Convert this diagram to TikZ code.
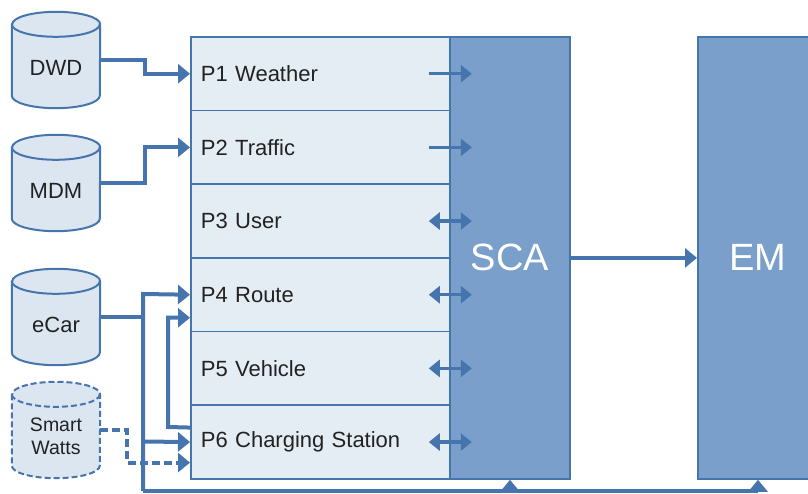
\documentclass[tikz,border=0pt]{standalone}
\usepackage{fontspec}
\setmainfont{Liberation Sans}
\usetikzlibrary{arrows.meta}

\definecolor{edge}{HTML}{4674AC}
\definecolor{rowfill}{HTML}{E4ECF4}
\definecolor{dbfill}{HTML}{DCE6F1}
\definecolor{blockfill}{HTML}{7A9FCA}
\definecolor{ink}{HTML}{222222}

% database drum drawn around an (invisible) named box
\newcommand\drum[2][]{%
  \path[#1] ([yshift=-12.5pt]#2.north west)
    -- ([yshift=12.5pt]#2.south west)
    arc[start angle=180,end angle=360,x radius=44pt,y radius=12.5pt]
    -- ([yshift=-12.5pt]#2.north east)
    arc[start angle=0,end angle=180,x radius=44pt,y radius=12.5pt]
    -- cycle;
  \path[#1,fill=none] ([yshift=-12.5pt]#2.north west)
    arc[start angle=180,end angle=360,x radius=44pt,y radius=12.5pt];
}

\begin{document}
\begin{tikzpicture}[x=1pt,y=-1pt,
  dbbox/.style={minimum width=88pt,minimum height=96pt,inner sep=0pt},
  dblabel/.style={text=ink,font=\fontsize{22}{26}\selectfont,inner sep=0pt,align=center},
  drumline/.style={draw=edge,line width=2pt,fill=dbfill},
  row/.style={draw=edge,line width=1.8pt,fill=rowfill,anchor=north west,
    minimum height=73.67pt,text width=239pt,inner xsep=10pt,align=left,
    text=ink,font=\fontsize{22}{26}\selectfont},
  block/.style={draw=edge,line width=1.8pt,fill=blockfill,anchor=north west,
    minimum width=120pt,minimum height=442pt,text=white,
    font=\fontsize{38}{42}\selectfont},
  conn/.style={draw=edge,line width=4pt,-{Triangle[length=12pt,width=19pt]}},
  dconn/.style={conn,dash pattern=on 8pt off 4pt},
  one/.style={draw=edge,line width=3.2pt,-{Triangle[length=11pt,width=17pt]}},
  both/.style={draw=edge,line width=3.2pt,{Triangle[length=11pt,width=17pt]}-{Triangle[length=11pt,width=17pt]}}
]
\useasboundingbox (0,0) rectangle (808,494);

% data sources
\node[dbbox] (dwd)  at (56,60)  {};
\node[dbbox] (mdm)  at (56,183) {};
\node[dbbox] (ecar) at (56,317) {};
\node[dbbox] (sw)   at (56,430) {};
\drum[drumline]{dwd}
\drum[drumline]{mdm}
\drum[drumline]{ecar}
\drum[drumline,dash pattern=on 6pt off 3pt]{sw}
\node[dblabel] (dwdl)  at ([yshift=-8pt]dwd.center)  {DWD};
\node[dblabel] (mdml)  at ([yshift=-8pt]mdm.center)  {MDM};
\node[dblabel] (ecarl) at ([yshift=-8pt]ecar.center) {eCar};
\node[dblabel,font=\fontsize{19.5}{23}\selectfont] (swl) at ([yshift=-6pt]sw.center) {Smart\\Watts};

% SCA and EM blocks
\node[block] (sca) at (449,36) {SCA};
\node[block] (em)  at (697,36) {EM};

% profile rows
\node[row] (p1) at (190,36)     {P1 Weather};
\node[row] (p2) at (190,109.67) {P2 Traffic};
\node[row] (p3) at (190,183.33) {P3 User};
\node[row] (p4) at (190,257)    {P4 Route};
\node[row] (p5) at (190,330.67) {P5 Vehicle};
\node[row] (p6) at (190,404.33) {P6 Charging Station};

% exchange between rows and SCA
\draw[one]  ([xshift=-22pt]p1.east) -- ([xshift=21pt]p1.east);
\draw[one]  ([xshift=-22pt]p2.east) -- ([xshift=21pt]p2.east);
\draw[both] ([xshift=-22pt]p3.east) -- ([xshift=21pt]p3.east);
\draw[both] ([xshift=-22pt]p4.east) -- ([xshift=21pt]p4.east);
\draw[both] ([xshift=-22pt]p5.east) -- ([xshift=21pt]p5.east);
\draw[both] ([xshift=-22pt]p6.east) -- ([xshift=21pt]p6.east);

% source feeds
\draw[conn] (dwd.east) -- (145,60) |- (p1.west);
\draw[conn] (mdm.east) -- (145,183) |- (p2.west);
\coordinate (bus) at (143,491);
\draw[draw=edge,line width=4pt] (ecar.east) -- (143,317);
\draw[conn] (bus) -- (143,294) -- (p4.west);
\draw[conn] (143,441.5) -- (p6.west);
\draw[conn] ([yshift=14.5pt]p6.west) -- (168,427) |- ([yshift=-23pt]p4.west);
\draw[dconn] (sw.east) -- (127,430) |- ([yshift=-20.5pt]p6.west);

% bottom bus into SCA and EM
\draw[conn] (bus) -- (758,491) -- (em.south -| 758,0);
\draw[conn] (510,491) -- (sca.south -| 510,0);

% SCA to EM
\draw[conn] (sca.east) -- (em.west);
\end{tikzpicture}
\end{document}
